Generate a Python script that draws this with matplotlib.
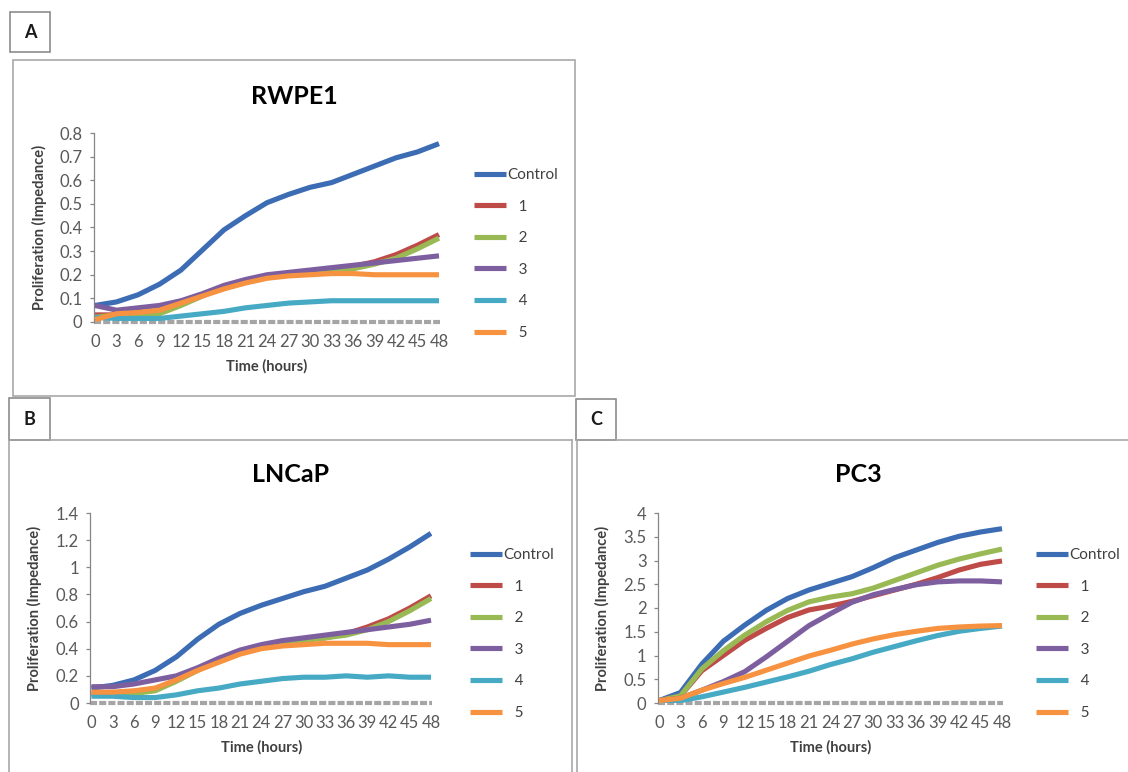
import matplotlib
matplotlib.use("Agg")
import matplotlib.pyplot as plt
from matplotlib.patches import Rectangle
from matplotlib.lines import Line2D

plt.rcParams["font.family"] = ["Lato", "DejaVu Sans"]

# --------------------------------------------------
# Data (every 3 hours)
# --------------------------------------------------
hours = [0, 3, 6, 9, 12, 15, 18, 21, 24, 27, 30, 33, 36, 39, 42, 45, 48]
x_ticks = hours
labels = ["Control", "1", "2", "3", "4", "5"]

rw_control = [0.07, 0.085, 0.115, 0.16, 0.22, 0.305, 0.39, 0.45, 0.505, 0.54, 0.57, 0.59, 0.625, 0.66, 0.695, 0.72, 0.755]
rw_1 = [0.03, 0.03, 0.03, 0.04, 0.075, 0.115, 0.15, 0.175, 0.19, 0.2, 0.205, 0.215, 0.235, 0.255, 0.285, 0.325, 0.37]
rw_2 = [0.02, 0.03, 0.03, 0.035, 0.07, 0.11, 0.148, 0.172, 0.188, 0.198, 0.205, 0.21, 0.225, 0.245, 0.27, 0.31, 0.355]
rw_3 = [0.07, 0.05, 0.06, 0.07, 0.09, 0.12, 0.155, 0.18, 0.2, 0.21, 0.22, 0.23, 0.24, 0.25, 0.26, 0.27, 0.28]
rw_4 = [0.02, 0.015, 0.015, 0.015, 0.025, 0.035, 0.045, 0.06, 0.07, 0.08, 0.085, 0.09, 0.09, 0.09, 0.09, 0.09, 0.09]
rw_5 = [0.01, 0.035, 0.04, 0.05, 0.08, 0.11, 0.14, 0.165, 0.185, 0.195, 0.2, 0.205, 0.205, 0.2, 0.2, 0.2, 0.2]

ln_control = [0.11, 0.13, 0.17, 0.24, 0.34, 0.47, 0.58, 0.66, 0.72, 0.77, 0.82, 0.86, 0.92, 0.98, 1.06, 1.15, 1.25]
ln_1 = [0.07, 0.07, 0.08, 0.1, 0.17, 0.25, 0.32, 0.38, 0.42, 0.45, 0.47, 0.48, 0.51, 0.56, 0.62, 0.7, 0.79]
ln_2 = [0.06, 0.06, 0.07, 0.09, 0.16, 0.24, 0.31, 0.37, 0.41, 0.44, 0.46, 0.48, 0.5, 0.54, 0.6, 0.68, 0.77]
ln_3 = [0.12, 0.12, 0.14, 0.17, 0.2, 0.26, 0.33, 0.39, 0.43, 0.46, 0.48, 0.5, 0.52, 0.54, 0.56, 0.58, 0.61]
ln_4 = [0.05, 0.05, 0.04, 0.04, 0.06, 0.09, 0.11, 0.14, 0.16, 0.18, 0.19, 0.19, 0.2, 0.19, 0.2, 0.19, 0.19]
ln_5 = [0.08, 0.08, 0.09, 0.11, 0.17, 0.24, 0.3, 0.36, 0.4, 0.42, 0.43, 0.44, 0.44, 0.44, 0.43, 0.43, 0.43]

pc_control = [0.05, 0.22, 0.82, 1.3, 1.64, 1.95, 2.2, 2.38, 2.52, 2.66, 2.85, 3.06, 3.22, 3.38, 3.51, 3.6, 3.67]
pc_1 = [0.05, 0.15, 0.68, 1.0, 1.32, 1.57, 1.8, 1.96, 2.04, 2.14, 2.26, 2.38, 2.5, 2.64, 2.8, 2.92, 2.99]
pc_2 = [0.05, 0.15, 0.72, 1.1, 1.43, 1.71, 1.95, 2.13, 2.23, 2.3, 2.42, 2.58, 2.74, 2.9, 3.03, 3.14, 3.24]
pc_3 = [0.05, 0.1, 0.27, 0.45, 0.66, 0.97, 1.3, 1.63, 1.88, 2.12, 2.28, 2.39, 2.49, 2.55, 2.57, 2.57, 2.55]
pc_4 = [0.03, 0.05, 0.13, 0.23, 0.33, 0.44, 0.55, 0.67, 0.81, 0.93, 1.07, 1.19, 1.31, 1.42, 1.51, 1.57, 1.62]
pc_5 = [0.05, 0.1, 0.27, 0.41, 0.54, 0.69, 0.84, 0.99, 1.11, 1.24, 1.35, 1.44, 1.51, 1.57, 1.6, 1.62, 1.63]

colors = ["#3C6DB4", "#BE4B48", "#98B954", "#7D5FA0", "#46AAC5", "#F69240"]

W, H = 1128, 772


def fx(px):
    return px / W


def fy(py):
    return 1 - py / H


# --------------------------------------------------
# Figure and panel frames
# --------------------------------------------------
fig = plt.figure(figsize=(W / 100, H / 100), dpi=100)

frame = "#A8A8A8"


def box(x0, y0, x1, y1, color=frame):
    fig.add_artist(Rectangle((fx(x0), fy(y1)), fx(x1) - fx(x0), fy(y0) - fy(y1),
                             transform=fig.transFigure, fill=False,
                             edgecolor=color, lw=1.2))


def hline(x0, x1, y, color=frame):
    fig.add_artist(Line2D([fx(x0), fx(x1)], [fy(y), fy(y)],
                          transform=fig.transFigure, color=color, lw=1.2))


def vline(x, y0, y1, color=frame):
    fig.add_artist(Line2D([fx(x), fx(x)], [fy(y0), fy(y1)],
                          transform=fig.transFigure, color=color, lw=1.2))


# panel A
box(10, 12, 50, 52, "#8C8C8C")
box(13, 60, 575, 396)
# panel B
box(9, 398, 50, 440, "#8C8C8C")
hline(50, 572, 440)
vline(9, 440, 772)
vline(572, 440, 772)
# panel C
box(576, 399, 616, 440, "#8C8C8C")
hline(616, 1128, 440)
vline(577, 440, 772)

for letter, x, y in [("A", 30, 32), ("B", 29.5, 419), ("C", 596, 419.5)]:
    fig.text(fx(x), fy(y), letter, ha="center", va="center",
             fontsize=13, fontweight="bold", color="#1A1A1A")

# --------------------------------------------------
# Panels
# --------------------------------------------------
panels = [
    dict(title="RWPE1", series=[rw_control, rw_1, rw_2, rw_3, rw_4, rw_5],
         ylim=0.8, ystep=0.1, x0=95, x48=439, ytop=133, ybot=322,
         title_xy=(294, 97), leg_xy=(474, 177), ylab_x=47),
    dict(title="LNCaP", series=[ln_control, ln_1, ln_2, ln_3, ln_4, ln_5],
         ylim=1.4, ystep=0.2, x0=91.5, x48=431, ytop=513, ybot=703,
         title_xy=(291, 475), leg_xy=(470, 557), ylab_x=42),
    dict(title="PC3", series=[pc_control, pc_1, pc_2, pc_3, pc_4, pc_5],
         ylim=4, ystep=0.5, x0=659, x48=1002, ytop=513, ybot=703,
         title_xy=(858, 475), leg_xy=(1036, 557), ylab_x=610),
]

for p in panels:
    pph = (p["x48"] - p["x0"]) / 48.0
    left = p["x0"] - 0.2 * pph
    right = p["x48"] + 0.2 * pph
    ax = fig.add_axes([fx(left), fy(p["ybot"]), fx(right) - fx(left),
                       (p["ybot"] - p["ytop"]) / H])

    for vals, c, lab in zip(p["series"], colors, labels):
        ax.plot(hours, vals, color=c, lw=3.7, label=lab,
                solid_capstyle="butt", solid_joinstyle="round", zorder=3)

    # Excel-like category axis: thick dashed gray line at zero
    ax.axhline(0, color="#A5A5A5", lw=3.0, ls=(0, (1.7, 0.5)),
               zorder=2, clip_on=False)

    ax.set_xlim(-0.2, 48.2)
    ax.set_ylim(0, p["ylim"])
    n = int(round(p["ylim"] / p["ystep"]))
    yt = [round(i * p["ystep"], 2) for i in range(n + 1)]
    ax.set_yticks(yt)
    ax.set_yticklabels([("%g" % v) for v in yt])
    ax.set_xticks(x_ticks)
    ax.set_xticklabels([str(h) for h in x_ticks])

    for s in ["top", "right", "bottom"]:
        ax.spines[s].set_visible(False)
    ax.spines["left"].set_color("#868686")
    ax.spines["left"].set_linewidth(0.9)
    ax.tick_params(axis="y", length=3, width=0.9, color="#868686",
                   labelsize=12, labelcolor="#595959", pad=5)
    ax.tick_params(axis="x", length=0, labelsize=12,
                   labelcolor="#595959", pad=9)

    ax.set_xlabel("Time (hours)", fontsize=10.5, fontweight="bold",
                  color="#404040", labelpad=6)
    ax.set_ylabel("Proliferation (Impedance)", fontsize=10.5,
                  fontweight="bold", color="#404040")
    ax.yaxis.set_label_coords((p["ylab_x"] - left) / (right - left), 0.5)

    fig.text(fx(p["title_xy"][0]), fy(p["title_xy"][1]), p["title"],
             ha="center", va="center", fontsize=18, fontweight="bold",
             color="black")

    handles, labs = ax.get_legend_handles_labels()
    labs = [l if l == "Control" else "   " + l for l in labs]
    lx, ly = p["leg_xy"]
    leg = ax.legend(handles, labs, loc="upper left",
                    bbox_to_anchor=(fx(lx), fy(ly - 9)),
                    bbox_transform=fig.transFigure, frameon=False,
                    fontsize=11, handlelength=2.1, handletextpad=0.05,
                    labelspacing=1.15, borderpad=0, borderaxespad=0)
    for t in leg.get_texts():
        t.set_color("#404040")

fig.savefig("out.png", dpi=100)
